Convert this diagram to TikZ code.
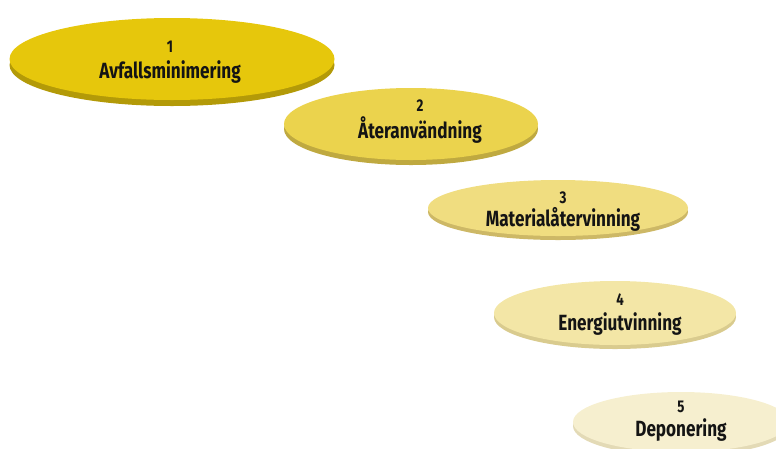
\documentclass[tikz,border=0pt]{standalone}
\usepackage{fontspec}
\setmainfont{Fira Sans}[FakeStretch=0.78]
\usetikzlibrary{shapes.geometric,shadows}
\definecolor{fa}{HTML}{E6C70C}\definecolor{sa}{HTML}{B39A08}
\definecolor{fb}{HTML}{EBD34D}\definecolor{sb}{HTML}{BFA940}
\definecolor{fc}{HTML}{F0DD80}\definecolor{sc}{HTML}{CDB866}
\definecolor{fd}{HTML}{F3E6A6}\definecolor{sd}{HTML}{D9CB8E}
\definecolor{fe}{HTML}{F6EFCF}\definecolor{se}{HTML}{E3DAB6}
\definecolor{ink}{HTML}{141414}
\tikzset{
  disk/.style n args={3}{ellipse, draw=none, fill=#1, inner sep=0pt,
     general shadow={fill=#2, shadow yshift=-#3pt}},
  num/.style={anchor=base, inner sep=0pt, text=ink, font=\bfseries\fontsize{17}{17}\selectfont},
  word/.style={anchor=base, inner sep=0pt, text=ink, font=\bfseries\fontsize{22}{22}\selectfont},
}
\begin{document}
\begin{tikzpicture}[x=1pt,y=-1pt]
\useasboundingbox (0,0) rectangle (776,448);
\node[disk={fa}{sa}{6}, minimum width=325pt, minimum height=82pt] (e1) at (172,59) {};
\node[disk={fb}{sb}{5}, minimum width=254pt, minimum height=72pt] (e2) at (411,124) {};
\node[disk={fc}{sc}{4}, minimum width=260pt, minimum height=56pt] (e3) at (558,208) {};
\node[disk={fd}{sd}{4}, minimum width=242pt, minimum height=64pt] (e4) at (615,313) {};
\node[disk={fe}{se}{4}, minimum width=216pt, minimum height=60pt] (e5) at (681,422) {};
\node[num] (n1) at (170,52) {1};
\node[word] (w1) at (170,78) {Avfallsminimering};
\node[num] (n2) at (420,111) {2};
\node[word] (w2) at (420,138) {Återanvändning};
\node[num] (n3) at (563,203) {3};
\node[word] (w3) at (563,226) {Materialåtervinning};
\node[num] (n4) at (620,305) {4};
\node[word] (w4) at (620,330) {Energiutvinning};
\node[num] (n5) at (681,412) {5};
\node[word] (w5) at (681,436) {Deponering};
\end{tikzpicture}
\end{document}
